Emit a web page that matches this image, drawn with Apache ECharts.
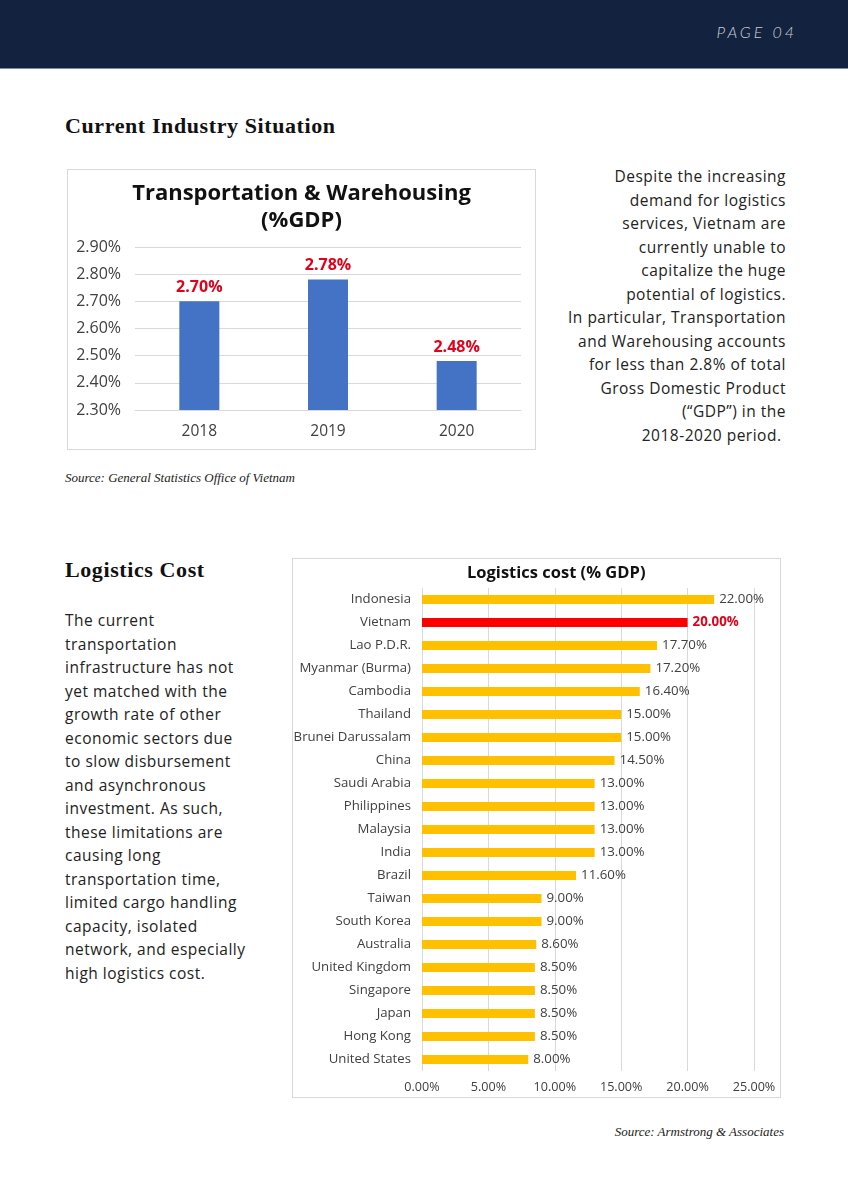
<!DOCTYPE html>
<html>
<head>
<meta charset="utf-8">
<script src="https://cdn.jsdelivr.net/npm/echarts@6/dist/echarts.min.js"></script>
<style>
  html,body{margin:0;padding:0;background:#fff;}
  body{width:848px;height:1200px;position:relative;overflow:hidden;font-family:"Open Sans",sans-serif;color:#222;}
  .hdr{position:absolute;left:0;top:0;width:848px;height:68px;background:#13233f;border-bottom:1px solid #7d8a9c;}
  .pg{position:absolute;right:51px;top:22px;font-family:"Lato",sans-serif;font-style:italic;font-weight:300;font-size:16px;letter-spacing:3px;color:#c9cdd5;}
  .h2{position:absolute;left:65px;font-family:"Liberation Serif",serif;font-weight:bold;font-size:22px;letter-spacing:0.6px;color:#111;white-space:nowrap;}
  .src{position:absolute;font-family:"Liberation Serif",serif;font-style:italic;font-size:13px;color:#222;white-space:nowrap;}
  .para{position:absolute;font-size:15.5px;letter-spacing:0.5px;line-height:23.5px;color:#222;white-space:nowrap;}
  .box{position:absolute;border:1px solid #d9d9d9;box-sizing:border-box;}
</style>
</head>
<body>
<div class="hdr"><div class="pg">PAGE 04</div></div>
<div class="h2" style="top:113px;">Current Industry Situation</div>
<div class="box" id="c1" style="left:67px;top:169px;width:469px;height:281px;"></div>
<div class="para" style="right:62px;top:165px;text-align:right;">Despite the increasing<br>demand for logistics<br>services, Vietnam are<br>currently unable to<br>capitalize the huge<br>potential of logistics.<br>In particular, Transportation<br>and Warehousing accounts<br>for less than 2.8% of total<br>Gross Domestic Product<br>(“GDP”) in the<br>2018-2020 period.&nbsp;</div>
<div class="src" style="left:65px;top:470px;">Source: General Statistics Office of Vietnam</div>

<div class="h2" style="top:557px;">Logistics Cost</div>
<div class="para" style="left:65px;top:609px;">The current<br>transportation<br>infrastructure has not<br>yet matched with the<br>growth rate of other<br>economic sectors due<br>to slow disbursement<br>and asynchronous<br>investment. As such,<br>these limitations are<br>causing long<br>transportation time,<br>limited cargo handling<br>capacity, isolated<br>network, and especially<br>high logistics cost.</div>
<div class="box" id="c2" style="left:292px;top:558px;width:489px;height:540px;"></div>
<div class="src" style="right:64px;top:1124px;">Source: Armstrong &amp; Associates</div>

<script>
// Chart 1 data
const years = ['2018', '2019', '2020'];
const twShare = [2.70, 2.78, 2.48];
const twTicks = [2.30, 2.40, 2.50, 2.60, 2.70, 2.80, 2.90];

// Chart 2 data
const countries = ['Indonesia','Vietnam','Lao P.D.R.','Myanmar (Burma)','Cambodia','Thailand','Brunei Darussalam','China','Saudi Arabia','Philippines','Malaysia','India','Brazil','Taiwan','South Korea','Australia','United Kingdom','Singapore','Japan','Hong Kong','United States'];
const logisticsCost = [22.00,20.00,17.70,17.20,16.40,15.00,15.00,14.50,13.00,13.00,13.00,13.00,11.60,9.00,9.00,8.60,8.50,8.50,8.50,8.50,8.00];
const costTicks = [0, 5, 10, 15, 20, 25];
const highlight = 'Vietnam';

const FONT = '"Open Sans", sans-serif';

const c1 = echarts.init(document.getElementById('c1'), null, {renderer: 'canvas'});
c1.setOption({
  animation: false,
  title: {
    text: 'Transportation & Warehousing\n(%GDP)',
    left: 'center', top: 5,
    textStyle: {fontFamily: FONT, fontWeight: 'bold', fontSize: 22, lineHeight: 27, color: '#111'}
  },
  grid: {left: 67, right: 14, top: 77, bottom: 39, containLabel: false, outerBoundsMode: 'none'},
  xAxis: {
    type: 'category', data: years,
    axisLine: {show: true, lineStyle: {color: '#d9d9d9'}},
    axisTick: {show: false},
    axisLabel: {fontFamily: FONT, fontSize: 15.5, color: '#404040', margin: 14}
  },
  yAxis: {
    type: 'value', min: twTicks[0], max: twTicks[twTicks.length - 1], interval: 0.1,
    axisLine: {show: false}, axisTick: {show: false},
    splitLine: {lineStyle: {color: '#d9d9d9'}},
    axisLabel: {fontFamily: FONT, fontSize: 16, color: '#404040', margin: 14,
      formatter: v => v.toFixed(2) + '%'}
  },
  series: [{
    type: 'bar', data: twShare, barWidth: 40,
    itemStyle: {color: '#4472c4'},
    label: {show: true, position: 'top', distance: 6, fontFamily: FONT, fontWeight: 'bold', fontSize: 16, color: '#e3001b',
      formatter: p => p.value.toFixed(2) + '%'}
  }]
});

const c2 = echarts.init(document.getElementById('c2'), null, {renderer: 'canvas'});
c2.setOption({
  animation: false,
  title: {
    text: 'Logistics cost (% GDP)', left: 169, top: 1,
    textStyle: {fontFamily: FONT, fontWeight: 'bold', fontSize: 16.5, color: '#111'}
  },
  grid: {left: 129, right: 26, top: 29, bottom: 26, containLabel: false, outerBoundsMode: 'none'},
  xAxis: {
    type: 'value', min: costTicks[0], max: costTicks[costTicks.length - 1], interval: 5,
    axisLine: {show: false}, axisTick: {show: false},
    splitLine: {lineStyle: {color: '#d9d9d9'}},
    axisLabel: {fontFamily: FONT, fontSize: 12.6, color: '#404040', margin: 10,
      formatter: v => v.toFixed(2) + '%'}
  },
  yAxis: {
    type: 'category', data: countries, inverse: true,
    axisLine: {show: false}, axisTick: {show: false},
    axisLabel: {fontFamily: FONT, fontSize: 13.2, color: '#404040', margin: 11}
  },
  series: [{
    type: 'bar', barWidth: 9,
    data: logisticsCost.map((v, i) => countries[i] === highlight ? {
      value: v, itemStyle: {color: '#ff0000'},
      label: {color: '#e3001b', fontWeight: 'bold'}
    } : v),
    itemStyle: {color: '#ffc000'},
    label: {show: true, position: 'right', distance: 5, fontFamily: FONT, fontSize: 13.3, color: '#404040',
      formatter: p => p.value.toFixed(2) + '%'}
  }]
});
</script>
</body>
</html>
